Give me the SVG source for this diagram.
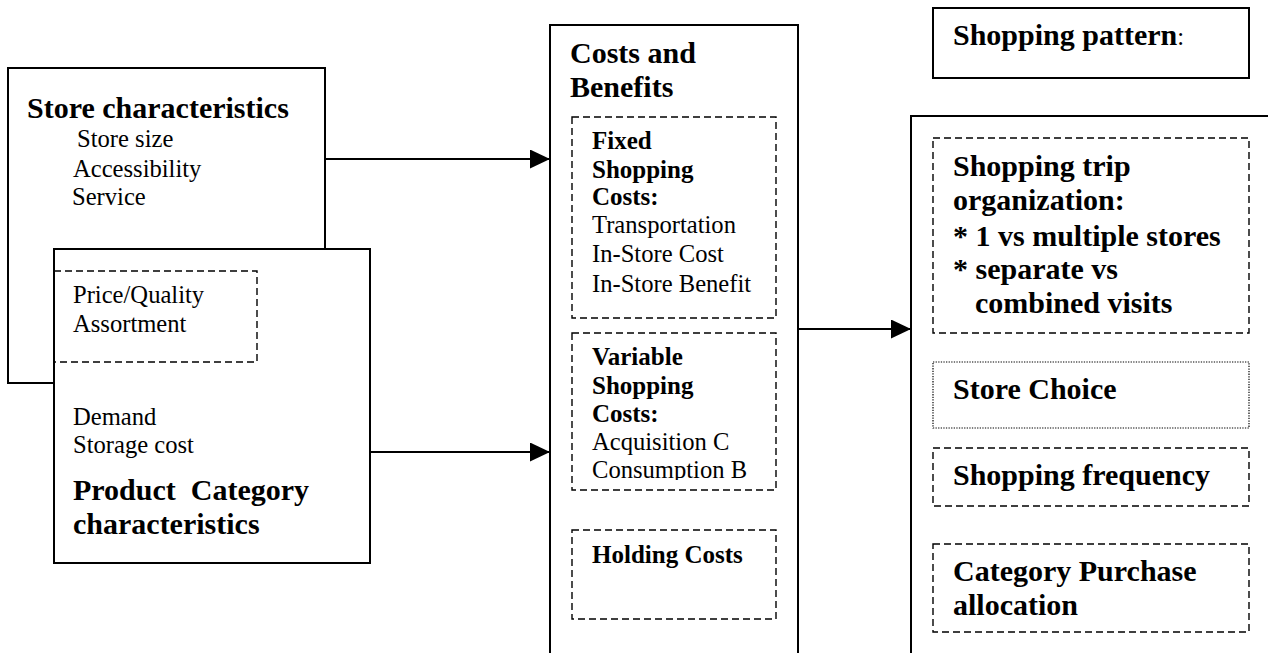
<svg xmlns="http://www.w3.org/2000/svg" width="1268" height="653" viewBox="0 0 1268 653">
<style>
.box{fill:#fff;stroke:#000;stroke-width:2}
.dash{fill:none;stroke:#000;stroke-width:1.4;stroke-dasharray:7 4}
.dot{fill:none;stroke:#000;stroke-width:1.2;stroke-dasharray:1.3 1.3}
text{font-family:"Liberation Serif","Times New Roman",serif;fill:#000}
.t{font-size:30px;font-weight:bold}
.s{font-size:25px;font-weight:bold}
.r{font-size:24.6px}
.line{stroke:#000;stroke-width:2;fill:none}
</style>
<defs>
<marker id="ah" viewBox="0 0 20 19" refX="20" refY="9.5" markerWidth="20" markerHeight="19" markerUnits="userSpaceOnUse" orient="auto">
<path d="M0,0 L20,9.5 L0,19 Z" fill="#000"/>
</marker>
<clipPath id="clipVar"><rect x="572" y="333" width="204" height="147"/></clipPath>
</defs>
<g id="connectors">
<line class="line" x1="325" y1="159" x2="550" y2="159" marker-end="url(#ah)"/>
<line class="line" x1="370" y1="452" x2="550" y2="452" marker-end="url(#ah)"/>
<line class="line" x1="798" y1="329" x2="911" y2="329" marker-end="url(#ah)"/>
</g>
<g id="store">
<rect class="box" x="8" y="68" width="317" height="315"/>
<text class="t" x="27" y="118">Store characteristics</text>
<text class="r" x="77" y="147">Store size</text>
<text class="r" x="73" y="177">Accessibility</text>
<text class="r" x="72" y="205">Service</text>
</g>
<g id="product">
<rect class="box" x="54" y="249" width="316" height="314"/>
<rect class="dash" x="54" y="271" width="203" height="91"/>
<text class="r" x="73" y="303">Price/Quality</text>
<text class="r" x="73" y="332">Assortment</text>
<text class="r" x="73" y="425">Demand</text>
<text class="r" x="73" y="453">Storage cost</text>
<text class="t" x="73" y="500" xml:space="preserve">Product  Category</text>
<text class="t" x="73" y="534">characteristics</text>
</g>
<g id="costs">
<rect class="box" x="550" y="25" width="248" height="640"/>
<text class="t" x="570" y="63">Costs and</text>
<text class="t" x="570" y="97">Benefits</text>
<g id="fixed">
<rect class="dash" x="572" y="117" width="204" height="201"/>
<text class="s" x="592" y="149">Fixed</text>
<text class="s" x="592" y="178">Shopping</text>
<text class="s" x="592" y="205">Costs:</text>
<text class="r" x="592" y="233">Transportation</text>
<text class="r" x="592" y="262">In-Store Cost</text>
<text class="r" x="592" y="292">In-Store Benefit</text>
</g>
<g id="variable">
<g clip-path="url(#clipVar)">
<text class="s" x="592" y="365">Variable</text>
<text class="s" x="592" y="394">Shopping</text>
<text class="s" x="592" y="422">Costs:</text>
<text class="r" x="592" y="450">Acquisition C</text>
<text class="r" x="592" y="478">Consumption B</text>
</g>
<rect class="dash" x="572" y="333" width="204" height="157"/>
</g>
<g id="holding">
<rect class="dash" x="572" y="530" width="204" height="89"/>
<text class="s" x="592" y="563">Holding Costs</text>
</g>
</g>
<g id="pattern">
<rect class="box" x="933" y="8" width="316" height="70"/>
<text x="953" y="45"><tspan class="t">Shopping pattern</tspan><tspan class="r">:</tspan></text>
</g>
<g id="outcomes">
<rect class="box" x="911" y="116" width="370" height="560"/>
<g id="trip">
<rect class="dash" x="933" y="138" width="316" height="195"/>
<text class="t" x="953" y="176">Shopping trip</text>
<text class="t" x="953" y="210">organization:</text>
<text class="t" x="953" y="246">* 1 vs multiple stores</text>
<text class="t" x="953" y="279">* separate vs</text>
<text class="t" x="975" y="313">combined visits</text>
</g>
<g id="choice">
<rect class="dot" x="933" y="362" width="316" height="66"/>
<text class="t" x="953" y="399">Store Choice</text>
</g>
<g id="frequency">
<rect class="dash" x="933" y="448" width="316" height="58"/>
<text class="t" x="953" y="485">Shopping frequency</text>
</g>
<g id="allocation">
<rect class="dash" x="933" y="544" width="316" height="88"/>
<text class="t" x="953" y="581">Category Purchase</text>
<text class="t" x="953" y="615">allocation</text>
</g>
</g>
</svg>
